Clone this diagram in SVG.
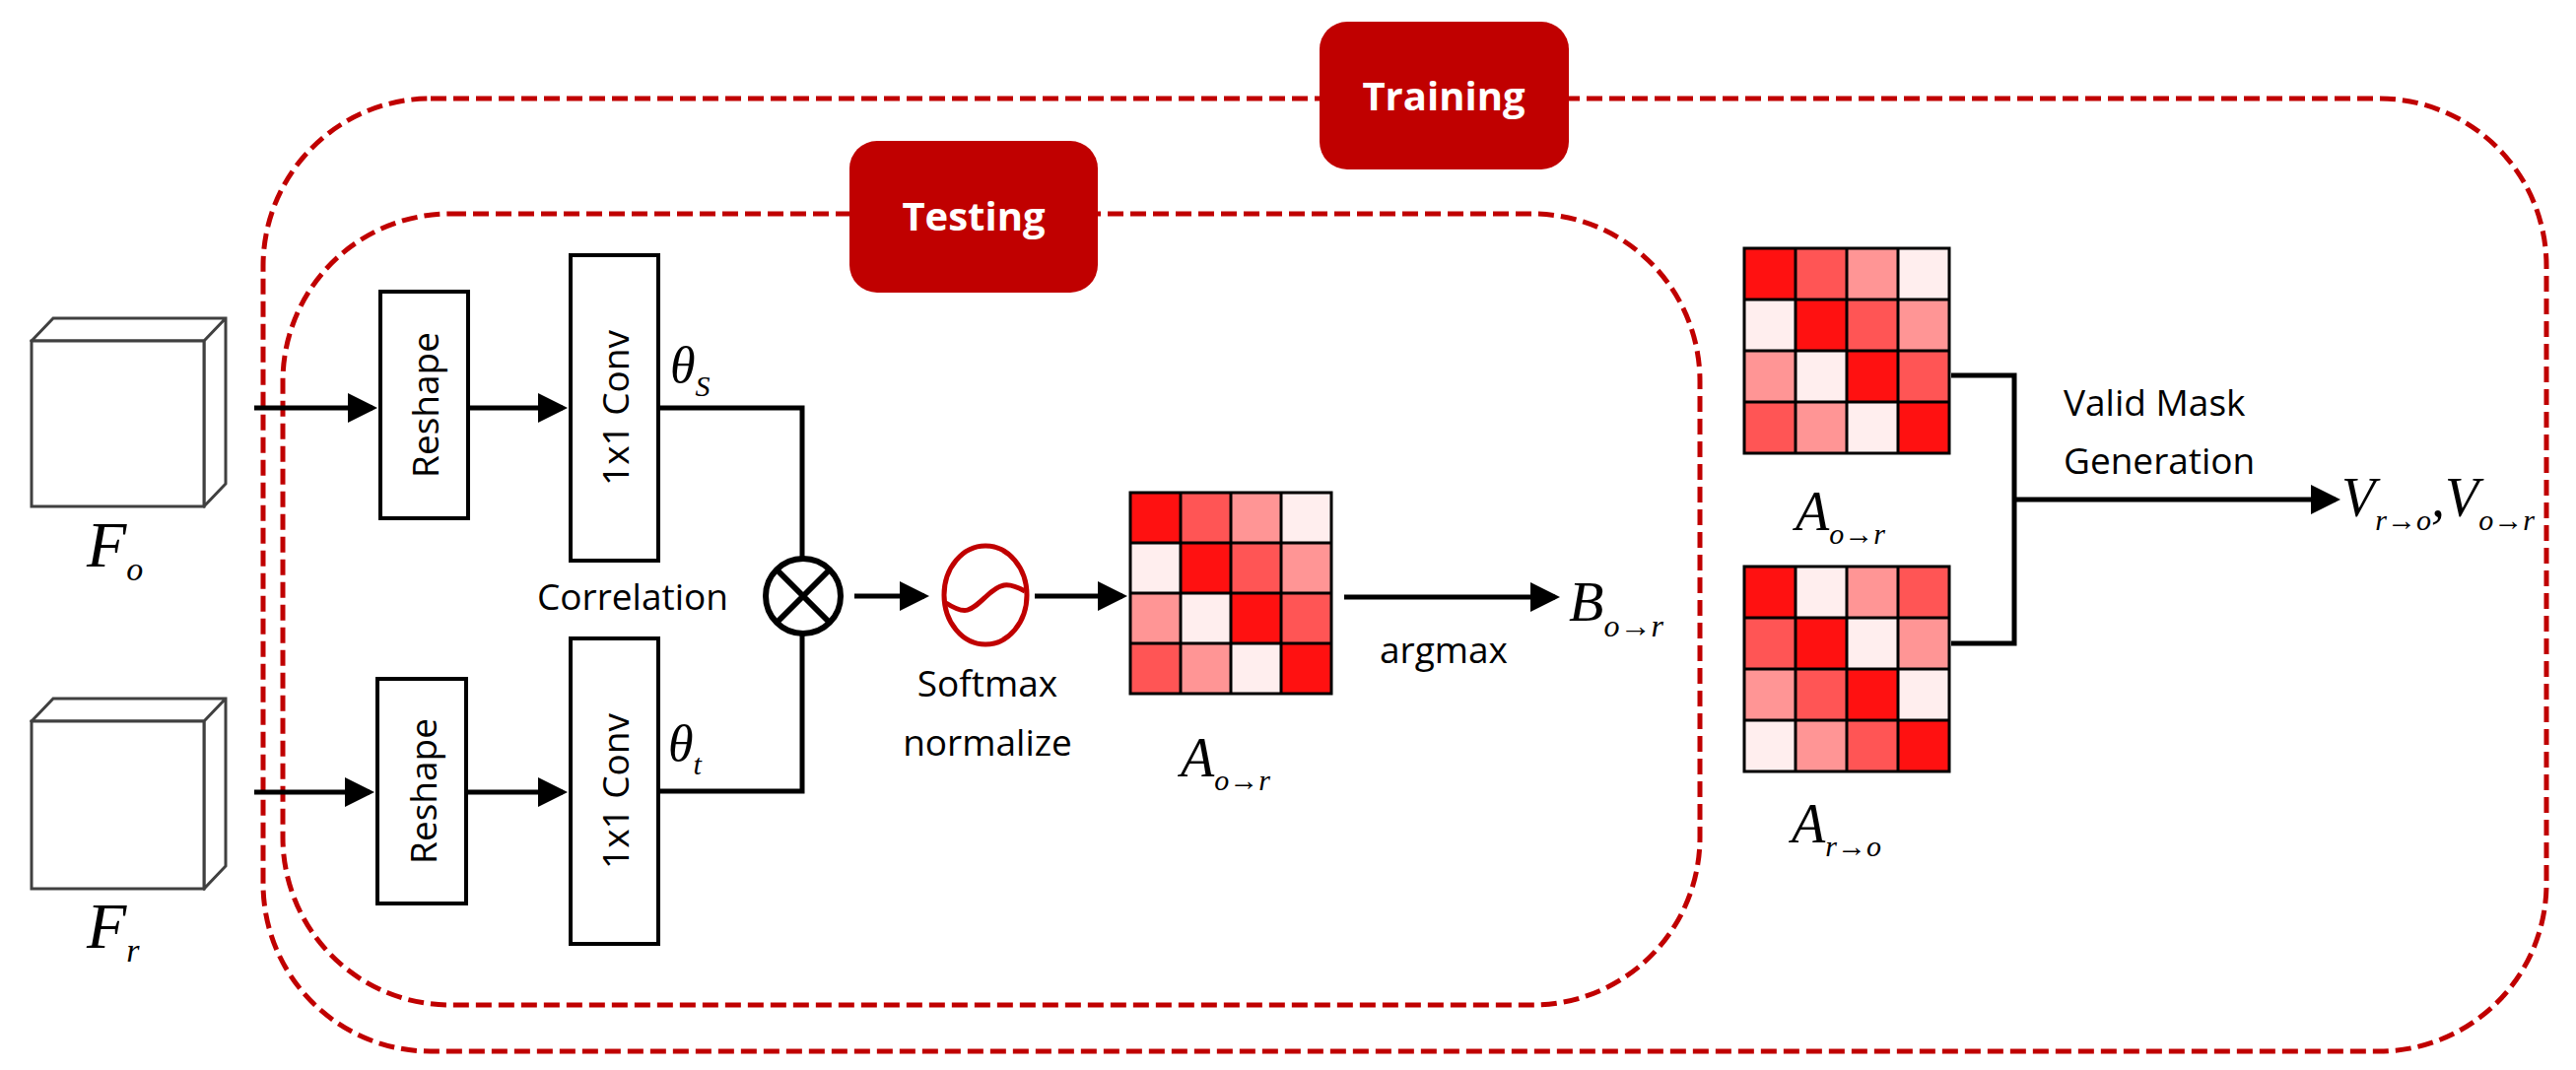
<svg xmlns="http://www.w3.org/2000/svg" width="2614" height="1086" viewBox="0 0 2614 1086">
<style>
.dash{fill:none;stroke:#C00000;stroke-width:5;stroke-dasharray:16 7}
.lab{fill:#C00000}
.lt{font-family:"Open Sans",sans-serif;font-weight:bold;font-size:40px;fill:#fff;text-anchor:middle}
.box{fill:#fff;stroke:#000;stroke-width:4}
.cube{fill:#fff;stroke:#404040;stroke-width:3}
.t{font-family:"Open Sans",sans-serif;font-size:37px;fill:#000}
.m{font-family:"Liberation Serif",serif;font-style:italic;fill:#000}
.ln{fill:none;stroke:#000;stroke-width:5}
.c0{fill:#FF1111}.c1{fill:#FF5555}.c2{fill:#FF9595}.c3{fill:#FFEEEE}
.grid{fill:none;stroke:#000;stroke-width:3}
</style>
<defs>
<marker id="ah" markerWidth="6" markerHeight="6" refX="5" refY="3" orient="auto" markerUnits="strokeWidth"><path d="M0,0 L6,3 L0,6 z" fill="#000"/></marker>
<g id="gridlines"><path class="grid" d="M0,0h204v204h-204z M51,0v204 M102,0v204 M153,0v204 M0,51h204 M0,102h204 M0,153h204"/></g>
</defs>
<g id="training">
<rect class="dash" x="267" y="100" width="2317" height="967" rx="170"/>
<rect class="lab" x="1339" y="22" width="253" height="150" rx="28"/>
<text class="lt" x="1465" y="112">Training</text>
</g>
<g id="testing">
<rect class="dash" x="287" y="217" width="1438" height="803" rx="170"/>
<rect class="lab" x="862" y="143" width="252" height="154" rx="28"/>
<text class="lt" x="988" y="234">Testing</text>
</g>
<g id="Fo">
<path class="cube" d="M32,346 L54,323 L229,323 L229,491 L207,514 Z M32,346 L207,346 L229,323 M207,346 L207,514"/>
<rect class="cube" x="32" y="346" width="175" height="168"/>
<text class="m" x="88" y="575" font-size="66">F<tspan font-size="34" dy="14">o</tspan></text>
</g>
<g id="Fr">
<path class="cube" d="M32,732 L54,709 L229,709 L229,879 L207,902 Z M32,732 L207,732 L229,709 M207,732 L207,902"/>
<rect class="cube" x="32" y="732" width="175" height="170"/>
<text class="m" x="88" y="962" font-size="66">F<tspan font-size="34" dy="14">r</tspan></text>
</g>
<g id="reshape1"><rect class="box" x="386" y="296" width="89" height="230"/><text class="t" transform="translate(445,411) rotate(-90)" text-anchor="middle">Reshape</text></g>
<g id="conv1"><rect class="box" x="579" y="259" width="89" height="310"/><text class="t" transform="translate(638,414) rotate(-90)" text-anchor="middle">1x1 Conv</text></g>
<g id="reshape2"><rect class="box" x="383" y="689" width="90" height="228"/><text class="t" transform="translate(443,803) rotate(-90)" text-anchor="middle">Reshape</text></g>
<g id="conv2"><rect class="box" x="579" y="648" width="89" height="310"/><text class="t" transform="translate(638,803) rotate(-90)" text-anchor="middle">1x1 Conv</text></g>
<g id="labels">
<text class="m" x="680" y="388" font-size="52">θ<tspan font-size="30" dy="14">S</tspan></text>
<text class="m" x="678" y="772" font-size="52">θ<tspan font-size="30" dy="14">t</tspan></text>
</g>
<g id="correlation">
<circle cx="815" cy="605" r="38" fill="#fff" stroke="#000" stroke-width="6"/>
<path d="M788,578 L842,632 M842,578 L788,632" stroke="#000" stroke-width="6"/>
<text class="t" x="545" y="619">Correlation</text>
</g>
<g id="softmax">
<ellipse cx="1000" cy="604" rx="42" ry="50" fill="#fff" stroke="#C00000" stroke-width="5"/>
<path d="M960,612 C980,625 985,620 1000,606 C1015,592 1022,590 1040,600" fill="none" stroke="#C00000" stroke-width="5"/>
<text class="t" x="1002" y="707" text-anchor="middle">Softmax</text>
<text class="t" x="1002" y="767" text-anchor="middle">normalize</text>
</g>
<g id="A1">
<g transform="translate(1147,500)">
<rect class="c0" x="0" y="0" width="51" height="51"/><rect class="c1" x="51" y="0" width="51" height="51"/><rect class="c2" x="102" y="0" width="51" height="51"/><rect class="c3" x="153" y="0" width="51" height="51"/>
<rect class="c3" x="0" y="51" width="51" height="51"/><rect class="c0" x="51" y="51" width="51" height="51"/><rect class="c1" x="102" y="51" width="51" height="51"/><rect class="c2" x="153" y="51" width="51" height="51"/>
<rect class="c2" x="0" y="102" width="51" height="51"/><rect class="c3" x="51" y="102" width="51" height="51"/><rect class="c0" x="102" y="102" width="51" height="51"/><rect class="c1" x="153" y="102" width="51" height="51"/>
<rect class="c1" x="0" y="153" width="51" height="51"/><rect class="c2" x="51" y="153" width="51" height="51"/><rect class="c3" x="102" y="153" width="51" height="51"/><rect class="c0" x="153" y="153" width="51" height="51"/>
<use href="#gridlines"/>
</g>
<text class="m" x="1198" y="788" font-size="56">A<tspan font-size="30" dy="14">o→r</tspan></text>
</g>
<g id="B">
<text class="m" x="1592" y="630" font-size="58">B<tspan font-size="32" dy="16">o→r</tspan></text>
<text class="t" x="1465" y="673" text-anchor="middle">argmax</text>
</g>
<g id="A2">
<g transform="translate(1770,252)">
<rect class="c0" x="0" y="0" width="52" height="52"/><rect class="c1" x="52" y="0" width="52" height="52"/><rect class="c2" x="104" y="0" width="52" height="52"/><rect class="c3" x="156" y="0" width="52" height="52"/>
<rect class="c3" x="0" y="52" width="52" height="52"/><rect class="c0" x="52" y="52" width="52" height="52"/><rect class="c1" x="104" y="52" width="52" height="52"/><rect class="c2" x="156" y="52" width="52" height="52"/>
<rect class="c2" x="0" y="104" width="52" height="52"/><rect class="c3" x="52" y="104" width="52" height="52"/><rect class="c0" x="104" y="104" width="52" height="52"/><rect class="c1" x="156" y="104" width="52" height="52"/>
<rect class="c1" x="0" y="156" width="52" height="52"/><rect class="c2" x="52" y="156" width="52" height="52"/><rect class="c3" x="104" y="156" width="52" height="52"/><rect class="c0" x="156" y="156" width="52" height="52"/>
<path class="grid" d="M0,0h208v208h-208z M52,0v208 M104,0v208 M156,0v208 M0,52h208 M0,104h208 M0,156h208"/>
</g>
<text class="m" x="1822" y="538" font-size="56">A<tspan font-size="30" dy="14">o→r</tspan></text>
</g>
<g id="A3">
<g transform="translate(1770,575)">
<rect class="c0" x="0" y="0" width="52" height="52"/><rect class="c3" x="52" y="0" width="52" height="52"/><rect class="c2" x="104" y="0" width="52" height="52"/><rect class="c1" x="156" y="0" width="52" height="52"/>
<rect class="c1" x="0" y="52" width="52" height="52"/><rect class="c0" x="52" y="52" width="52" height="52"/><rect class="c3" x="104" y="52" width="52" height="52"/><rect class="c2" x="156" y="52" width="52" height="52"/>
<rect class="c2" x="0" y="104" width="52" height="52"/><rect class="c1" x="52" y="104" width="52" height="52"/><rect class="c0" x="104" y="104" width="52" height="52"/><rect class="c3" x="156" y="104" width="52" height="52"/>
<rect class="c3" x="0" y="156" width="52" height="52"/><rect class="c2" x="52" y="156" width="52" height="52"/><rect class="c1" x="104" y="156" width="52" height="52"/><rect class="c0" x="156" y="156" width="52" height="52"/>
<path class="grid" d="M0,0h208v208h-208z M52,0v208 M104,0v208 M156,0v208 M0,52h208 M0,104h208 M0,156h208"/>
</g>
<text class="m" x="1818" y="855" font-size="56">A<tspan font-size="30" dy="14">r→o</tspan></text>
</g>
<g id="valid">
<text class="t" x="2094" y="422">Valid Mask</text>
<text class="t" x="2094" y="481">Generation</text>
<text class="m" x="2376" y="524" font-size="56">V<tspan font-size="30" dy="14">r→o</tspan><tspan dy="-14">,V</tspan><tspan font-size="30" dy="14">o→r</tspan></text>
</g>
<g id="connectors">
<path class="ln" d="M258,414 H378" marker-end="url(#ah)"/>
<path class="ln" d="M475,414 H571" marker-end="url(#ah)"/>
<path class="ln" d="M258,804 H375" marker-end="url(#ah)"/>
<path class="ln" d="M473,804 H571" marker-end="url(#ah)"/>
<path class="ln" d="M668,414 H814 V567"/>
<path class="ln" d="M668,803 H814 V643"/>
<path class="ln" d="M867,605 H938" marker-end="url(#ah)"/>
<path class="ln" d="M1050,605 H1139" marker-end="url(#ah)"/>
<path class="ln" d="M1364,606 H1578" marker-end="url(#ah)"/>
<path class="ln" d="M1980,381 H2044 V653 H1980"/>
<path class="ln" d="M2044,507 H2370" marker-end="url(#ah)"/>
</g>
</svg>
